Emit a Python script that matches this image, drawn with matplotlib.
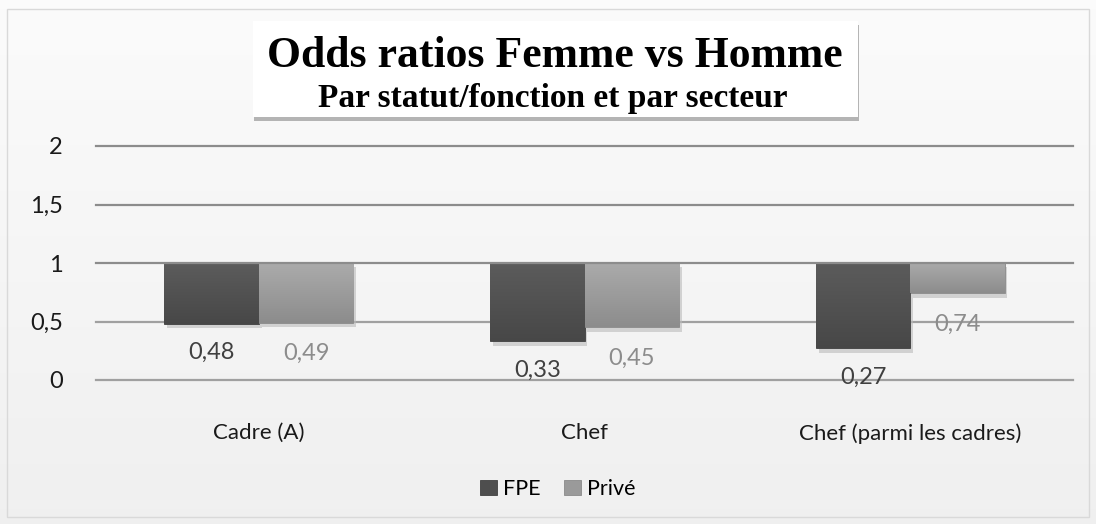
import matplotlib
matplotlib.use("Agg")
import matplotlib.pyplot as plt
import numpy as np
from matplotlib.patches import Rectangle, FancyBboxPatch
import matplotlib.patheffects as pe

categories = ["Cadre (A)", "Chef", "Chef (parmi les cadres)"]
fpe = [0.48, 0.33, 0.27]
prive = [0.49, 0.45, 0.74]
series_names = ["FPE", "Privé"]
yticks = [0, 0.5, 1, 1.5, 2]
ytick_labels = ["0", "0,5", "1", "1,5", "2"]
title = "Odds ratios Femme vs Homme"
subtitle = "Par statut/fonction et par secteur"

FONT = ["Lato", "DejaVu Sans"]
SERIF = ["Liberation Serif", "DejaVu Serif"]
fig = plt.figure(figsize=(10.96, 5.24), dpi=100)

# background gradient
bg = fig.add_axes([0, 0, 1, 1], zorder=-10)
grad = np.linspace(0.985, 0.94, 256).reshape(-1, 1)
bg.imshow(np.dstack([grad, grad, grad]), aspect="auto", extent=[0, 1, 0, 1])
bg.add_patch(Rectangle((0.006, 0.014), 0.988, 0.968, fill=False, edgecolor="#d9d9d9", lw=1))
bg.set_xlim(0, 1); bg.set_ylim(0, 1); bg.axis("off")

ax = fig.add_axes([96/1096, 144/524, 977/1096, 234/524])
ax.set_facecolor("none")
x = np.arange(len(categories))
w = 0.29
shadow = [pe.SimplePatchShadow(offset=(2, -3), shadow_rgbFace="#bbbbbb", alpha=0.6), pe.Normal()]
b1 = ax.bar(x - w/2, [1 - v for v in fpe], bottom=fpe, width=w, color="#4e4e4e",
            edgecolor="#404040", lw=0.6, zorder=3, path_effects=shadow, label=series_names[0])
b2 = ax.bar(x + w/2, [1 - v for v in prive], bottom=prive, width=w, color="#9a9a9a",
            edgecolor="#8a8a8a", lw=0.6, zorder=3, path_effects=shadow, label=series_names[1])

def add_gradient(bars, top, bottom):
    g = np.linspace(top, bottom, 64).reshape(-1, 1)
    img = np.dstack([g, g, g])
    for b in bars:
        x0, y0 = b.get_x(), b.get_y()
        im = ax.imshow(img, aspect="auto", extent=[x0, x0 + b.get_width(), y0, y0 + b.get_height()],
                       zorder=3.1, interpolation="bilinear")
        im.set_clip_path(b)

add_gradient(b1, 0.36, 0.28)
add_gradient(b2, 0.67, 0.55)

for yv in yticks:
    ax.axhline(yv, color="#8c8c8c" if yv >= 1 else "#a0a0a0", lw=1.6, zorder=2 if yv != 1 else 4, clip_on=False)

def fmt(v):
    return f"{v:.2f}".replace(".", ",")

for xi, v in zip(x - w/2, fpe):
    ax.annotate(fmt(v), (xi, v), xytext=(0, -29), textcoords="offset pixels",
                ha="center", va="center", fontsize=17, color="#404040", family=FONT, zorder=5)
for xi, v in zip(x + w/2, prive):
    ax.annotate(fmt(v), (xi, v), xytext=(0, -31), textcoords="offset pixels",
                ha="center", va="center", fontsize=17, color="#8c8c8c", family=FONT, zorder=5)

ax.set_xlim(-0.5, len(categories) - 0.5)
ax.set_ylim(0, 2)
ax.set_yticks(yticks)
ax.set_yticklabels(ytick_labels, family=FONT, fontsize=17, color="#1a1a1a")
ax.set_xticks(x)
ax.set_xticklabels(categories, family=FONT, fontsize=16, color="#1a1a1a")
ax.tick_params(axis="y", length=0, pad=24)
ax.tick_params(axis="x", length=0, pad=31)
for s in ax.spines.values():
    s.set_visible(False)

# title box
tb = FancyBboxPatch((253/1096, 1 - 117/524), (858-253)/1096, (117-21)/524,
                    boxstyle="square,pad=0", transform=fig.transFigure, facecolor="white",
                    edgecolor="none", zorder=5,
                    path_effects=[pe.SimplePatchShadow(offset=(1, -3), shadow_rgbFace="#888888", alpha=0.6), pe.Normal()])
fig.add_artist(tb)
fig.text(555/1096, 1 - 67/524, title, ha="center", va="baseline", fontsize=31.5, fontweight="bold",
         family=SERIF, zorder=6)
fig.text(553/1096, 1 - 107/524, subtitle, ha="center", va="baseline", fontsize=24, fontweight="bold",
         family=SERIF, zorder=6)

leg = fig.legend(handles=[b1, b2], labels=series_names, loc="center", bbox_to_anchor=(558/1096, 1 - 489/524),
                 ncol=2, frameon=False, prop={"family": FONT, "size": 15.5}, handlelength=0.75, handleheight=0.75,
                 handletextpad=0.3, columnspacing=1.1)
for h in leg.legend_handles:
    h.set_path_effects([])

fig.savefig("out.png", dpi=100)
